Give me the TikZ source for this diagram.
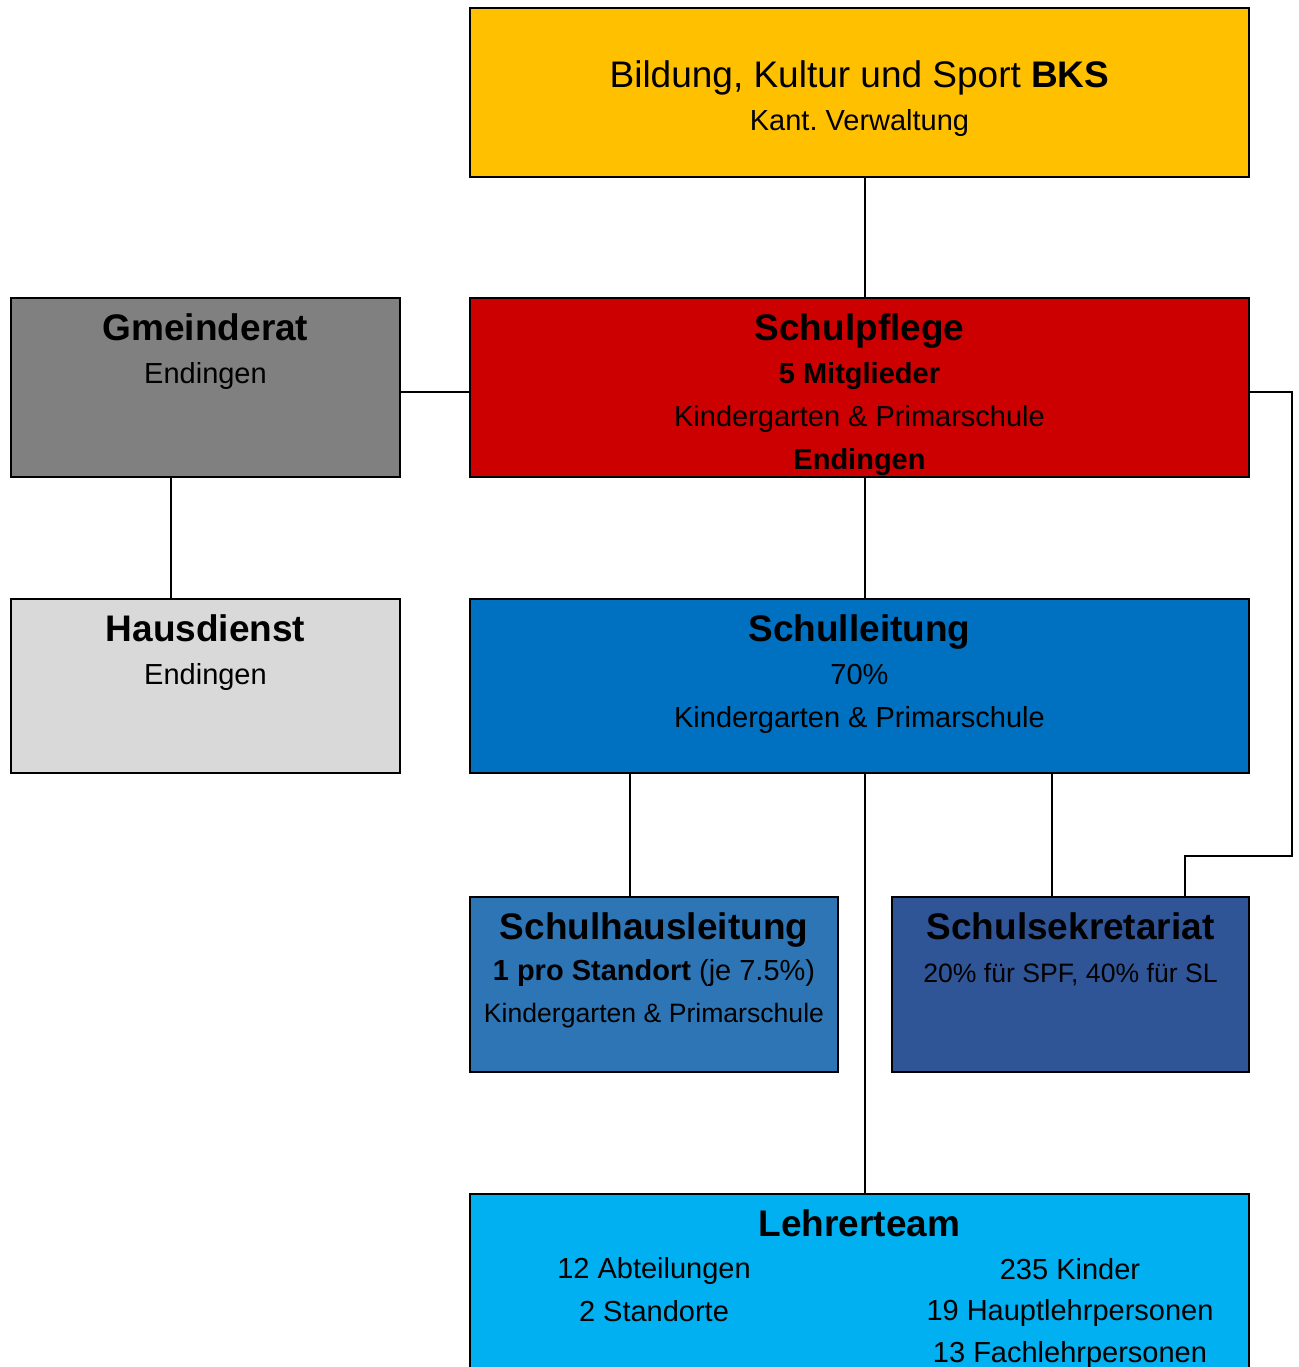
\documentclass[tikz,border=0pt]{standalone}
\usepackage{fontspec}
\setmainfont{Liberation Sans}
\definecolor{bksgelb}{HTML}{FFC000}
\definecolor{spfrot}{HTML}{CC0000}
\definecolor{grgrau}{HTML}{808080}
\definecolor{hdgrau}{HTML}{D9D9D9}
\definecolor{slblau}{HTML}{0070C0}
\definecolor{shlblau}{HTML}{2E75B6}
\definecolor{sekblau}{HTML}{2F5597}
\definecolor{ltblau}{HTML}{00B0F0}
\newcommand{\kopf}[1]{{\fontsize{18.5}{21.5}\selectfont\bfseries #1}}
\newcommand{\klein}{\fontsize{13.3}{21}\selectfont}

\begin{document}
\begin{tikzpicture}[x=1pt,y=1pt]
\tikzstyle{box}=[rectangle,draw,line width=1pt,inner sep=0pt]
\tikzstyle{txt}=[align=center,anchor=base,inner sep=0pt,font=\fontsize{14.5}{21.5}\selectfont]
\tikzstyle{verb}=[line width=0.9pt]
\clip (0,0) rectangle (649,-683.5);
\node[box,fill=bksgelb,minimum width=389.5pt,minimum height=84.5pt] (bks) at (429.75,-46.25) {};
\node[box,fill=spfrot,minimum width=389.5pt,minimum height=89.5pt] (spf) at (429.75,-193.75) {};
\node[box,fill=grgrau,minimum width=194.5pt,minimum height=89.5pt] (gr) at (102.75,-193.75) {};
\node[box,fill=hdgrau,minimum width=194.5pt,minimum height=87pt] (hd) at (102.75,-343) {};
\node[box,fill=slblau,minimum width=389.5pt,minimum height=87pt] (sl) at (429.75,-343) {};
\node[box,fill=shlblau,minimum width=184pt,minimum height=87.5pt] (shl) at (327,-492.25) {};
\node[box,fill=sekblau,minimum width=178.5pt,minimum height=87.5pt] (sek) at (535.25,-492.25) {};
\node[box,fill=ltblau,minimum width=389.5pt,minimum height=100pt] (lt) at (429.75,-647) {};

\node[txt] (bkst) at ([yshift=-61.5pt]bks.north) {\fontsize{18.5}{22}\selectfont Bildung, Kultur und Sport \textbf{BKS}\\Kant.\ Verwaltung};
\node[txt] (spft) at ([yshift=-86pt]spf.north) {\kopf{Schulpflege}\\\textbf{5 Mitglieder}\\Kindergarten \& Primarschule\\\textbf{Endingen}};
\node[txt] (grt) at ([yshift=-43pt]gr.north) {\kopf{Gmeinderat}\\Endingen};
\node[txt] (hdt) at ([yshift=-43pt]hd.north) {\kopf{Hausdienst}\\Endingen};
\node[txt] (slt) at ([yshift=-64.5pt]sl.north) {\kopf{Schulleitung}\\70\%\\Kindergarten \& Primarschule};
\node[txt,font=\fontsize{14.5}{20.75}\selectfont] (shlt) at ([yshift=-63pt]shl.north) {\kopf{Schulhausleitung}\\\textbf{1 pro Standort} (je 7.5\%)\\{\klein Kindergarten \& Primarschule}};
\node[txt] (sekt) at ([yshift=-43pt]sek.north) {\kopf{Schulsekretariat}\\{\klein 20\% für SPF, 40\% für SL}};
\node[txt] (ltt) at ([yshift=-21.5pt]lt.north) {\kopf{Lehrerteam}};
\node[txt] (ltl) at ([xshift=-102.75pt,yshift=-64pt]lt.north) {12 Abteilungen\\2 Standorte};
\node[txt,font=\fontsize{14.5}{20.75}\selectfont] (ltr) at ([xshift=105.25pt,yshift=-84.5pt]lt.north) {235 Kinder\\19 Hauptlehrpersonen\\13 Fachlehrpersonen};

\coordinate (knick) at (646,-428);
\draw[verb] ([xshift=2.75pt]bks.south) -- ([xshift=2.75pt]spf.north);
\draw[verb] ([yshift=-2.25pt]gr.east) -- ([yshift=-2.25pt]spf.west);
\draw[verb] ([xshift=-17.25pt]gr.south) -- ([xshift=-17.25pt]hd.north);
\draw[verb] ([xshift=2.75pt]spf.south) -- ([xshift=2.75pt]sl.north);
\draw[verb] ([xshift=-12pt]shl.north) -- ([xshift=-12pt]shl.north |- sl.south);
\draw[verb] ([xshift=-9.25pt]sek.north) -- ([xshift=-9.25pt]sek.north |- sl.south);
\draw[verb] ([xshift=2.75pt]sl.south) -- ([xshift=2.75pt]lt.north);
\draw[verb] ([yshift=-2.25pt]spf.east) -| (knick) -| ([xshift=57.25pt]sek.north);
\end{tikzpicture}
\end{document}
